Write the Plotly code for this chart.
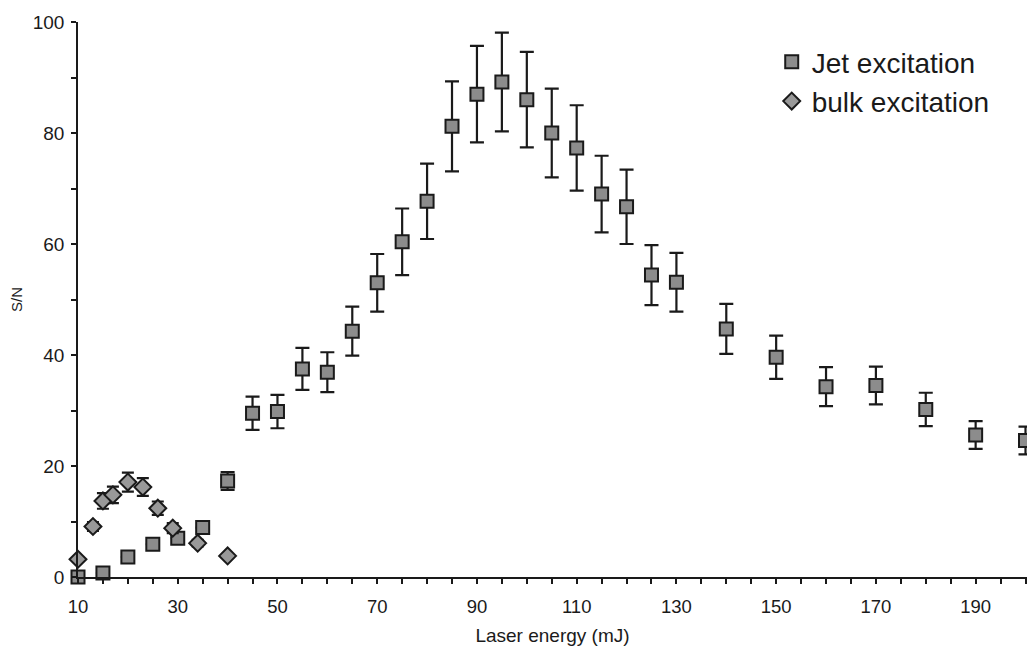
import plotly.graph_objects as go

# Jet excitation
jet_x = [10, 15, 20, 25, 30, 35, 40, 45, 50, 55, 60, 65, 70, 75, 80, 85, 90, 95, 100,
         105, 110, 115, 120, 125, 130, 140, 150, 160, 170, 180, 190, 200]
jet_y = [0.0, 0.7, 3.6, 5.9, 7.0, 8.9, 17.3, 29.5, 29.8, 37.5, 36.9, 44.3, 53.0, 60.4, 67.7,
         81.2, 87.0, 89.2, 86.0, 80.0, 77.3, 69.0, 66.7, 54.4, 53.1, 44.7, 39.6, 34.3, 34.5,
         30.2, 25.6, 24.6]
jet_err = [0.0, 0.0, 0.0, 0.0, 0.0, 0.0, 1.6, 3.0, 3.0, 3.8, 3.6, 4.4, 5.2, 6.0, 6.8,
           8.1, 8.7, 8.9, 8.6, 8.0, 7.7, 6.9, 6.7, 5.4, 5.3, 4.5, 3.9, 3.5, 3.4,
           3.0, 2.5, 2.5]

# bulk excitation
bulk_x = [10, 13, 15, 17, 20, 23, 26, 29, 34, 40]
bulk_y = [3.2, 9.1, 13.7, 14.8, 17.1, 16.2, 12.4, 8.8, 6.1, 3.8]
bulk_err = [0.0, 0.8, 1.4, 1.5, 1.7, 1.6, 1.2, 0.9, 0.6, 0.0]

x_ticks = [10, 30, 50, 70, 90, 110, 130, 150, 170, 190]
y_ticks = [0, 20, 40, 60, 80, 100]

FONT = "Liberation Sans, Arial, sans-serif"
INK = "#1a1a1a"

fig = go.Figure()
fig.add_trace(go.Scatter(
    x=jet_x, y=jet_y, mode="markers", name="Jet excitation",
    marker=dict(symbol="square", size=13, color="#8c8c8c",
                line=dict(color=INK, width=2)),
    error_y=dict(type="data", array=jet_err, visible=True, color=INK,
                 thickness=2.2, width=7),
    cliponaxis=False,
))
fig.add_trace(go.Scatter(
    x=bulk_x, y=bulk_y, mode="markers", name="bulk excitation",
    marker=dict(symbol="diamond", size=13, color="#999999",
                line=dict(color=INK, width=2)),
    error_y=dict(type="data", array=bulk_err, visible=True, color=INK,
                 thickness=2.2, width=6),
    cliponaxis=False,
))

# page body adds an 8px offset, so the figure is sized/margined to compensate
fig.update_layout(
    width=1019, height=638,
    margin=dict(l=70, r=0, t=14, b=69),
    paper_bgcolor="white", plot_bgcolor="white",
    font=dict(family=FONT, color=INK),
    showlegend=True,
    legend=dict(x=0.731, y=0.973, xanchor="left", yanchor="top",
                font=dict(size=28, family=FONT, color=INK),
                bgcolor="rgba(0,0,0,0)"),
    xaxis=dict(
        range=[10, 200.3], tickvals=x_ticks, ticktext=[str(v) for v in x_ticks],
        ticks="outside", ticklen=5, tickwidth=1.5, tickcolor=INK,
        showline=True, linecolor=INK, linewidth=1.5,
        showgrid=False, zeroline=False, automargin=False,
        tickfont=dict(size=18.5, family=FONT), ticklabelstandoff=7,
        minor=dict(dtick=5, tick0=10, ticks="outside", ticklen=5, tickwidth=1.5,
                   tickcolor=INK, showgrid=False),
        title=dict(text="Laser energy (mJ)", font=dict(size=19, family=FONT), standoff=18),
    ),
    yaxis=dict(
        range=[0, 100], tickvals=y_ticks,
        ticks="outside", ticklen=5, tickwidth=1.5, tickcolor=INK,
        showline=True, linecolor=INK, linewidth=1.5,
        showgrid=False, zeroline=False, automargin=False,
        tickfont=dict(size=19, family=FONT), ticklabelstandoff=3,
        minor=dict(dtick=10, tick0=0, ticks="outside", ticklen=5, tickwidth=1.5,
                   tickcolor=INK, showgrid=False),
        title=dict(text="S/N", font=dict(size=15, family=FONT), standoff=9),
    ),
)

fig.write_html("out.html")
